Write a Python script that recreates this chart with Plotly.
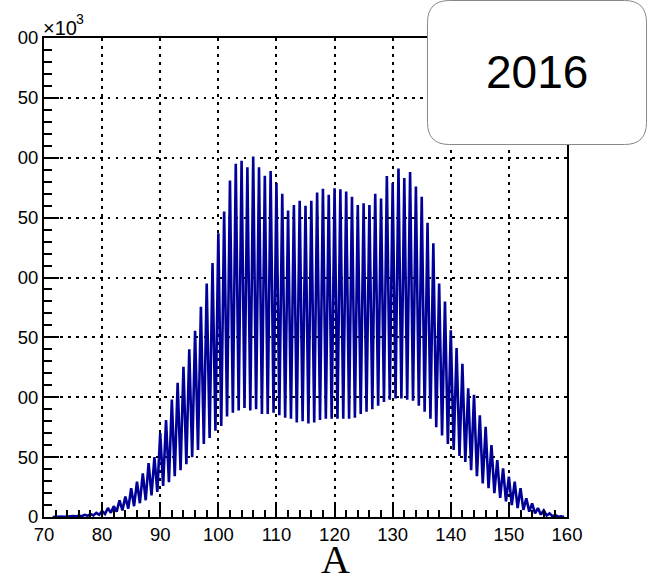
import plotly.graph_objects as go

# ---- data (counts in units of 10^3) ----
mass_numbers = list(range(72, 160))  # integer A where the peaks sit
peak_counts = [
    0.3, 0.4, 0.5, 0.8, 1.2, 1.8, 2.5, 3.5,            # 72-79
    5, 7.5, 9, 14, 17, 24, 29.5, 36.5, 45, 50,          # 80-89
    70, 81, 98, 112, 125.5, 140, 155.6, 175.6, 195, 212,  # 90-99
    237, 255, 281, 295, 297.5, 292, 301, 292, 285, 289,   # 100-109
    279, 270, 256, 260.5, 264, 260, 264, 271, 274, 269,   # 110-119
    274.5, 273.6, 271.7, 267.5, 260.5, 262, 260.5, 270, 266, 284.8,  # 120-129
    279, 291, 283, 288, 276, 267.5, 245.8, 228.5, 195, 180,  # 130-139
    156, 141, 128, 107.5, 102, 85, 75.4, 60, 47.6, 40.6,    # 140-149
    33.7, 29.5, 24, 15.6, 11.4, 7.5, 5.5, 3, 1.5, 0.5,      # 150-159
]
# valleys at A + 0.5 (first entry is A = 71.5)
valley_counts = [
    0,                                                  # 71.5
    0.1, 0.2, 0.3, 0.5, 0.7, 1, 1.3, 1.8,               # 72.5-79.5
    2.5, 3.5, 4.5, 5.5, 7, 9, 11.5, 14, 18, 21,         # 80.5-89.5
    26, 29, 34, 39, 44, 50, 56, 61, 66, 72,             # 90.5-99.5
    76, 84, 87, 89, 91, 89, 90, 86, 86, 87,             # 100.5-109.5
    85, 83, 82, 79, 80, 78, 79, 81, 82, 82,             # 110.5-119.5
    82, 82, 82, 83, 86, 88, 90, 93, 96, 98,             # 120.5-129.5
    99, 99, 98, 97, 93, 88, 82, 75, 68, 61,             # 130.5-139.5
    56, 51, 46, 39, 34, 28, 24, 20, 16, 13,             # 140.5-149.5
    10, 7.5, 6, 4.5, 3, 2, 1.2, 0.6, 0.2, 0,            # 150.5-159.5
]
y_tick_values = [0, 50, 100, 150, 200, 250, 300, 350, 400]
y_tick_labels = ["0", "50", "00", "50", "00", "50", "00", "50", "00"]
x_tick_values = [70, 80, 90, 100, 110, 120, 130, 140, 150, 160]
x_tick_labels = ["70", "80", "90", "100", "110", "120", "130", "140", "150", "160"]
year_label = "2016"
x_title = "A"
y_multiplier = "×10"
y_multiplier_exp = "3"

# interleave valleys and peaks into one line
xs, ys = [mass_numbers[0] - 0.5], [valley_counts[0]]
for i, a in enumerate(mass_numbers):
    xs += [a, a + 0.5]
    ys += [peak_counts[i], valley_counts[i + 1]]

W, H = 647, 581
L, R, T, B = 44, 80, 38, 64
pw, ph = W - L - R, H - T - B


def px(x):
    return (x - L) / pw


def py(y):
    return (H - B - y) / ph


fig = go.Figure()
fig.add_trace(go.Scatter(x=xs, y=ys, mode="lines",
                         line=dict(color="#000099", width=2.6),
                         showlegend=False, hoverinfo="skip"))

axis_common = dict(showline=True, linecolor="black", linewidth=2, mirror=True,
                   ticks="inside", tickcolor="black", tickwidth=1.6, ticklen=15,
                   showgrid=True, gridcolor="black", gridwidth=2.2,
                   griddash="2.5px,5.5px", zeroline=False,
                   tickfont=dict(family="Liberation Sans", size=18.5, color="black"))

fig.update_xaxes(range=[70, 160], tickvals=x_tick_values, ticktext=x_tick_labels,
                 minor=dict(ticks="inside", dtick=2, ticklen=7, tickcolor="black",
                            tickwidth=1.6, showgrid=False),
                 **axis_common)
fig.update_yaxes(range=[0, 400], tickvals=y_tick_values, ticktext=y_tick_labels,
                 minor=dict(ticks="inside", dtick=10, ticklen=8, tickcolor="black",
                            tickwidth=1.6, showgrid=False),
                 **axis_common)

# rounded box for the year label
bx0, bx1, by0, by1, rr = 427.5, 646.5, 0.5, 144.5, 22
path = (f"M {px(bx0 + rr)} {py(by0)} L {px(bx1 - rr)} {py(by0)} "
        f"Q {px(bx1)} {py(by0)} {px(bx1)} {py(by0 + rr)} "
        f"L {px(bx1)} {py(by1 - rr)} Q {px(bx1)} {py(by1)} {px(bx1 - rr)} {py(by1)} "
        f"L {px(bx0 + rr)} {py(by1)} Q {px(bx0)} {py(by1)} {px(bx0)} {py(by1 - rr)} "
        f"L {px(bx0)} {py(by0 + rr)} Q {px(bx0)} {py(by0)} {px(bx0 + rr)} {py(by0)} Z")
fig.add_shape(type="path", path=path, xref="paper", yref="paper",
              fillcolor="white", line=dict(color="#888888", width=1), layer="above")

fig.add_annotation(text=year_label, x=px(537), y=py(72), xref="paper", yref="paper",
                   xanchor="center", yanchor="middle", showarrow=False,
                   font=dict(family="Liberation Sans", size=46, color="black"))
fig.add_annotation(text=y_multiplier, x=px(41), y=py(28), xref="paper", yref="paper",
                   xanchor="left", yanchor="middle", showarrow=False,
                   font=dict(family="Liberation Sans", size=20, color="black"))
fig.add_annotation(text=y_multiplier_exp, x=px(74), y=py(19), xref="paper", yref="paper",
                   xanchor="left", yanchor="middle", showarrow=False,
                   font=dict(family="Liberation Sans", size=14, color="black"))
fig.add_annotation(text=x_title, x=px(335), y=py(559), xref="paper", yref="paper",
                   xanchor="center", yanchor="middle", showarrow=False,
                   font=dict(family="Liberation Serif", size=40, color="black"))

fig.update_layout(width=W, height=H, margin=dict(l=L, r=R, t=T, b=B, pad=0),
                  plot_bgcolor="white", paper_bgcolor="white")

fig.write_html("out.html")
